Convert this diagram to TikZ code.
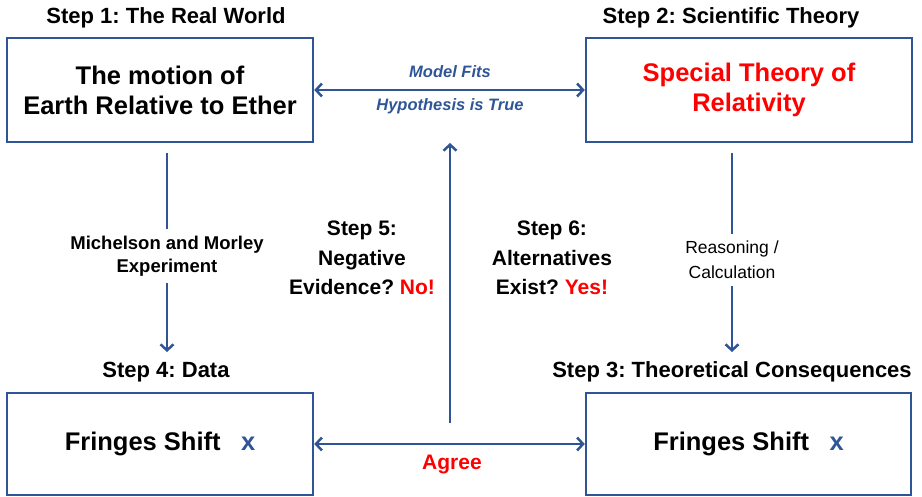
\documentclass[tikz,border=0pt]{standalone}
\usepackage{fontspec}
\setmainfont{Liberation Sans}
\usetikzlibrary{arrows.meta}
\definecolor{arrblue}{RGB}{47,85,151}
\frenchspacing

\begin{document}
\begin{tikzpicture}[x=1pt, y=-1pt,
    box/.style={draw=arrblue, line width=2.5pt, minimum height=104pt, align=center, inner sep=0pt,
      font=\bfseries\fontsize{25.5}{30}\selectfont},
    steptitle/.style={font=\bfseries\fontsize{22}{25}\selectfont},
    question/.style={align=center, font=\bfseries\fontsize{21}{29.5}\selectfont},
    small/.style={align=center, inner sep=7pt, font=\fontsize{17.5}{25}\selectfont},
    link/.style={arrblue, line width=2.5pt},
    tip/.style={link, -{Straight Barb[length=6pt,width=13pt,line width=2.5pt]}},
    both/.style={link, {Straight Barb[length=6pt,width=13pt,line width=2.5pt]}-{Straight Barb[length=6pt,width=13pt,line width=2.5pt]}}]
    \useasboundingbox (0,0) rectangle (922,497);

    \node[box, minimum width=306pt] (world) at (160,90) {The motion of\\Earth Relative to Ether};
    \node[box, minimum width=326pt, text=red] (theory) at (749,90) {Special Theory of\\Relativity};
    \node[box, minimum width=306pt, minimum height=102pt] (data) at (160,444) {Fringes Shift\hspace{0.8em}\textcolor{arrblue}{x}};
    \node[box, minimum width=325pt, minimum height=102pt] (conseq) at (748.5,444) {Fringes Shift\hspace{0.8em}\textcolor{arrblue}{x}};

    \node[steptitle] (t1) at (166,18) {Step 1: The Real World};
    \node[steptitle] (t2) at (731,18) {Step 2: Scientific Theory};
    \node[steptitle] (t4) at (166,372) {Step 4: Data};
    \node[steptitle] (t3) at (732,372) {Step 3: Theoretical Consequences};

    \node[text=arrblue, font=\bfseries\itshape\fontsize{16.5}{18}\selectfont] (fits) at (450,72) {Model Fits};
    \node[text=arrblue, font=\bfseries\itshape\fontsize{16.5}{18}\selectfont] (true) at (450,106) {Hypothesis is True};
    \draw[both] (world.east) -- (theory.west);

    \node[question] (s5) at (362,258) {Step 5:\\Negative\\Evidence? \textcolor{red}{No!}};
    \node[question] (s6) at (552,258) {Step 6:\\Alternatives\\Exist? \textcolor{red}{Yes!}};
    \coordinate (up0) at (450,423);
    \coordinate (up1) at (450,143);
    \draw[tip] (up0) -- (up1);

    \draw[both] (data.east) -- (conseq.west);
    \node[text=red, font=\bfseries\fontsize{21}{25}\selectfont] (agree) at (452,465) {Agree};

    % experiment and reasoning
    \node[small, font=\bfseries\fontsize{18.5}{23}\selectfont] (mm) at (167,256) {Michelson and Morley\\Experiment};
    \node[small] (calc) at (732,260) {Reasoning /\\Calculation};
    \coordinate (w1) at (167,153);
    \coordinate (w2) at (167,352);
    \coordinate (c1) at (732,153);
    \coordinate (c2) at (732,352);
    \draw[link] (w1) -- (mm);
    \draw[tip] (mm) -- (w2);
    \draw[link] (c1) -- (calc);
    \draw[tip] (calc) -- (c2);
\end{tikzpicture}
\end{document}
